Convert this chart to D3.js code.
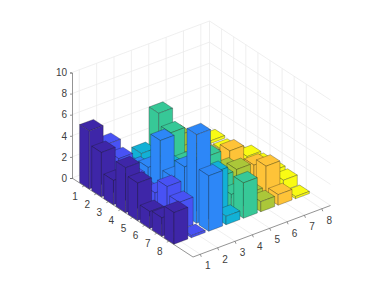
<!DOCTYPE html>
<html>
<head>
<meta charset="utf-8">
<script src="https://cdn.jsdelivr.net/npm/d3@7"></script>
<style>
html, body { margin: 0; padding: 0; background: #fff; }
svg { display: block; }
text { font-family: "Liberation Sans", Arial, sans-serif; font-size: 10px; fill: #404040; }
</style>
</head>
<body>
<div id="chart"></div>
<script>
// bar heights, one list per x position, each running y = 1..8
var col1 = [5.5, 4.2, 2.3, 4.25, 3.55, 1.6, 1.75, 3.0];
var col2 = [3.6, 3.0, 2.0, 1.5, 2.0, 3.35, 2.6, 0.2];
var col3 = [1.0, 1.5, 2.3, 5.6, 2.9, 4.6, 8.4, 5.25];
var col4 = [1.5, 1.0, 2.0, 1.5, 3.0, 2.0, 4.2, 0.8];
var col5 = [4.7, 3.6, 1.5, 1.5, 3.6, 2.4, 1.5, 3.35];
var col6 = [1.9, 1.0, 1.5, 1.0, 1.8, 2.5, 1.0, 0.95];
var col7 = [0.5, 0.3, 0.5, 2.15, 1.0, 2.3, 2.95, 1.0];
var col8 = [0.25, 0.1, 0.4, 1.0, 1.0, 1.1, 1.0, 0.2];
var columns = [col1, col2, col3, col4, col5, col6, col7, col8];

var colors = ["#3e26a8", "#4852f4", "#2d87f7", "#12b1d6", "#37c897", "#abc739", "#fec338", "#f9fb14"];
var xTicks = [1, 2, 3, 4, 5, 6, 7, 8];
var yTicks = [1, 2, 3, 4, 5, 6, 7, 8];
var zTicks = [0, 2, 4, 6, 8, 10];
var xLim = [0.58, 8.5];
var yLim = [0, 10];

var w = 388, h = 291;
var barHalf = 0.4;

// oblique view: each data axis moves along its own screen direction
var origin = {x: 72, y: 178};
var xAlong = d3.scaleLinear().domain(xLim).range([0, 137.5]);
var xRise = d3.scaleLinear().domain(xLim).range([0, -51.5]);
var yAlong = d3.scaleLinear().domain(yLim).range([0, 121]);
var yDrop = d3.scaleLinear().domain(yLim).range([0, 79]);
var zScale = d3.scaleLinear().domain([0, 10]).range([0, -105.5]);

function project(x, y, z) {
    return [origin.x + xAlong(x) + yAlong(y), origin.y + xRise(x) + yDrop(y) + zScale(z)];
}
var path = d3.line();

var svg = d3.select("#chart").append("svg")
    .attr("width", w)
    .attr("height", h);

// walls and floor grid
function gridLine(a, b) {
    svg.append("path")
        .attr("d", path([project(a[0], a[1], a[2]), project(b[0], b[1], b[2])]))
        .attr("fill", "none")
        .attr("stroke", "#ebebeb")
        .attr("stroke-width", 0.8);
}
xTicks.forEach(function(t) {
    gridLine([t, yLim[0], 0], [t, yLim[1], 0]);
    gridLine([t, yLim[0], 0], [t, yLim[0], 10]);
});
yTicks.forEach(function(t) {
    gridLine([xLim[0], t, 0], [xLim[1], t, 0]);
    gridLine([xLim[1], t, 0], [xLim[1], t, 10]);
});
zTicks.forEach(function(t) {
    gridLine([xLim[0], yLim[0], t], [xLim[1], yLim[0], t]);
    gridLine([xLim[1], yLim[0], t], [xLim[1], yLim[1], t]);
});
gridLine([xLim[1], yLim[0], 0], [xLim[1], yLim[0], 10]);

// axis lines
function axisLine(a, b) {
    svg.append("path")
        .attr("d", path([a, b]))
        .attr("fill", "none")
        .attr("stroke", "#666")
        .attr("stroke-width", 0.7);
}
axisLine(project(xLim[0], yLim[0], 0), project(xLim[0], yLim[1], 0));
axisLine(project(xLim[0], yLim[1], 0), project(xLim[1], yLim[1], 0));

var zAxis = d3.axisLeft(d3.scaleLinear().domain([0, 10]).range([origin.y, origin.y - 105.5]))
    .tickValues(zTicks)
    .tickSize(2)
    .tickPadding(3);
var zg = svg.append("g")
    .attr("transform", "translate(" + origin.x + ",0)")
    .call(zAxis);
zg.selectAll("path, line").attr("stroke", "#666").attr("stroke-width", 0.7);
zg.selectAll("text").style("font-family", "'Liberation Sans', Arial, sans-serif").style("font-size", "10px").attr("fill", "#404040");

xTicks.forEach(function(t) {
    var p = project(t, yLim[1], 0);
    axisLine(p, [p[0] + 1, p[1] + 2.5]);
    svg.append("text")
        .attr("x", p[0] + 7.5)
        .attr("y", p[1] + 15)
        .attr("text-anchor", "middle")
        .text(t);
});
yTicks.forEach(function(t) {
    var p = project(xLim[0], t, 0);
    axisLine(p, [p[0] - 2, p[1] + 1]);
    svg.append("text")
        .attr("x", p[0] - 9)
        .attr("y", p[1] + 14)
        .attr("text-anchor", "middle")
        .text(t);
});

// bars, painted from the back corner forward
var bars = [];
d3.range(7, -1, -1).forEach(function(i) {
    d3.range(0, 8).forEach(function(j) {
        bars.push({x: xTicks[i], y: yTicks[j], value: columns[i][j], color: colors[i]});
    });
});

function faces(d) {
    var x0 = d.x - barHalf, x1 = d.x + barHalf, y0 = d.y - barHalf, y1 = d.y + barHalf, z = d.value;
    return [
        [project(x0, y0, z), project(x1, y0, z), project(x1, y1, z), project(x0, y1, z)],
        [project(x0, y0, 0), project(x0, y1, 0), project(x0, y1, z), project(x0, y0, z)],
        [project(x0, y1, 0), project(x1, y1, 0), project(x1, y1, z), project(x0, y1, z)]
    ];
}

svg.selectAll(".bar")
    .data(bars)
    .enter()
    .append("g")
    .attr("class", "bar")
    .selectAll("path")
    .data(function(d) {
        return faces(d).map(function(f) {
            return {pts: f, color: d.color};
        });
    })
    .enter()
    .append("path")
    .attr("d", function(f) {
        return path(f.pts) + "Z";
    })
    .attr("fill", function(f) {
        return f.color;
    })
    .attr("stroke", "#1a1a1a")
    .attr("stroke-opacity", 0.5)
    .attr("stroke-width", 0.6)
    .attr("stroke-linejoin", "round");
</script>
</body>
</html>
